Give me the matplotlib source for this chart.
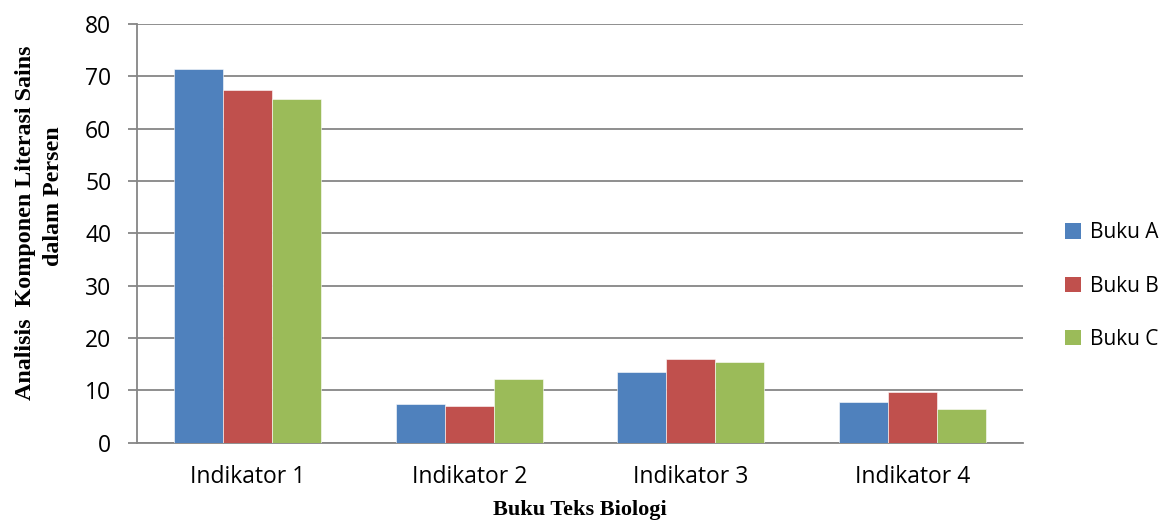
import numpy as np
import matplotlib.pyplot as plt
from matplotlib.patches import Patch

categories = ["Indikator 1", "Indikator 2", "Indikator 3", "Indikator 4"]
books = ["Buku A", "Buku B", "Buku C"]
buku_a = [71.4, 7.3, 13.4, 7.7]
buku_b = [67.3, 7.0, 15.9, 9.7]
buku_c = [65.7, 12.2, 15.4, 6.5]
yticks = [0, 10, 20, 30, 40, 50, 60, 70, 80]

colors = ["#4F81BD", "#C0504D", "#9BBB59"]
grid_color = "#868686"
tick_font = "Open Sans"
label_font = "Liberation Serif"

fig = plt.figure(figsize=(11.63, 5.2), dpi=100)
ax = fig.add_axes([0.1178, 0.149, 0.762, 0.8048])

x = np.arange(len(categories))
width = 0.221
series = [buku_a, buku_b, buku_c]
for i, (vals, col) in enumerate(zip(series, colors)):
    ax.bar(x + (i - 1) * width, vals, width, color=col,
           edgecolor="white", linewidth=0.4, zorder=3)

ax.set_xlim(-0.5, len(categories) - 0.5)
ax.set_ylim(0, 80)
ax.set_yticks(yticks)
ax.set_xticks(x)
ax.set_xticklabels(categories, fontfamily=tick_font, fontsize=16.5)
ax.set_yticklabels([str(v) for v in yticks], fontfamily=tick_font, fontsize=16.5)

ax.yaxis.grid(True, color=grid_color, linewidth=1.3, zorder=0)
ax.set_axisbelow(True)
for s in ["top", "right"]:
    ax.spines[s].set_visible(False)
ax.spines["left"].set_color(grid_color)
ax.spines["bottom"].set_color(grid_color)
ax.spines["left"].set_linewidth(1.3)
ax.spines["bottom"].set_linewidth(1.3)
ax.tick_params(axis="y", length=6.5, width=1.3, color=grid_color, pad=12)
ax.tick_params(axis="x", length=0, pad=16)

ax.set_xlabel("Buku Teks Biologi", fontfamily=label_font, fontweight="bold",
              fontsize=16, labelpad=8)

# y-axis title: two lines, each placed on its own
ylab = dict(fontfamily=label_font, fontweight="bold", fontsize=17.3,
            rotation=90, ha="center", va="center")
fig.text(0.0215, 0.572, "Analisis  Komponen Literasi Sains", **ylab)
fig.text(0.0456, 0.622, "dalam Persen", **ylab)

handles = [Patch(facecolor=c, edgecolor="none") for c in colors]
fig.legend(handles, books, loc="center left", bbox_to_anchor=(0.9, 0.45),
           frameon=False, prop={"family": tick_font, "size": 15},
           handlelength=0.75, handleheight=0.75, handletextpad=0.45,
           labelspacing=1.55)

fig.savefig("out.png", dpi=100)
